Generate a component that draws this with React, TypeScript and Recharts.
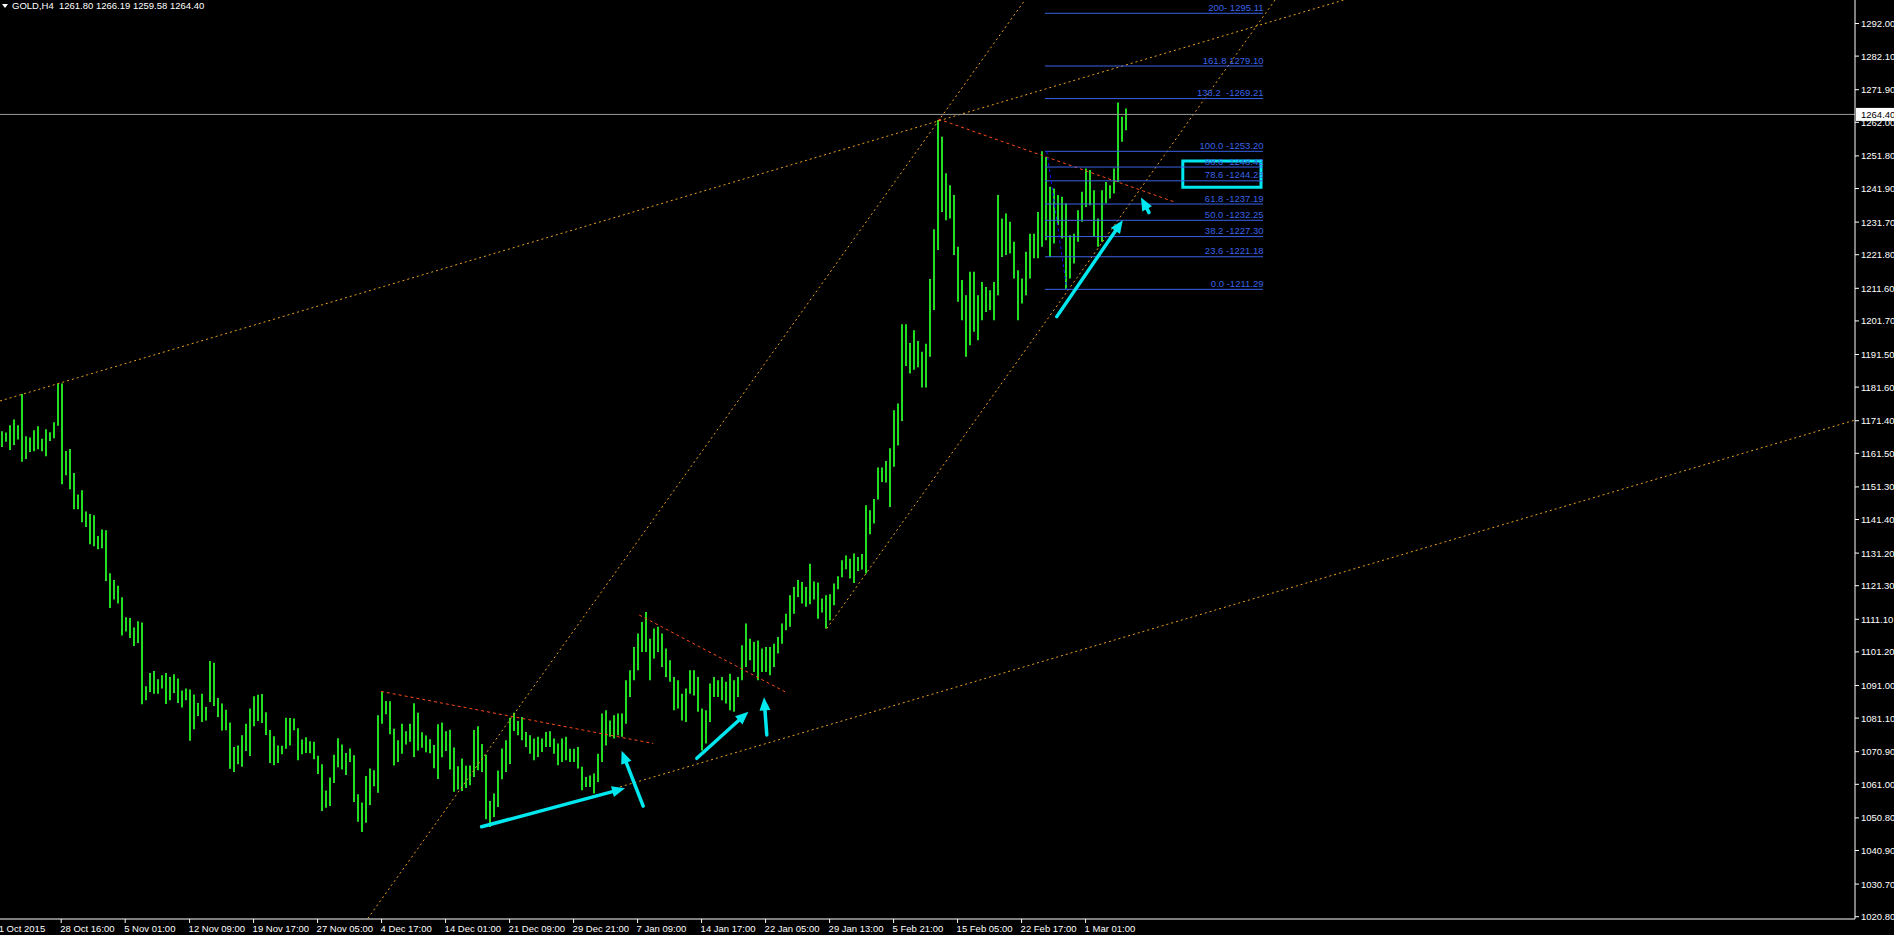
import React from 'react';
import {
  Bar,
  ComposedChart,
  ReferenceArea,
  ReferenceLine,
  XAxis,
  YAxis,
} from 'recharts';

const W = 1894;
const H = 935;

// one slot = two H4 bars, [low, high] per slot
const highs = [
  1168.2, 1167.8, 1170.0, 1171.8, 1170.0, 1179.5, 1166.7, 1166.3, 1168.5, 1169.7,
  1165.9, 1168.8, 1167.9, 1170.9, 1182.7, 1182.7, 1162.2, 1162.8, 1155.5, 1149.0,
  1150.3, 1143.8, 1143.1, 1142.7, 1136.4, 1138.4, 1138.1, 1125.1, 1123.0, 1121.3,
  1117.8, 1111.7, 1111.5, 1108.6, 1110.5, 1110.1, 1090.8, 1094.8, 1095.4, 1092.9,
  1094.1, 1094.8, 1093.6, 1094.4, 1093.1, 1089.5, 1090.1, 1089.8, 1088.3, 1085.7,
  1088.5, 1084.5, 1098.4, 1097.9, 1087.2, 1085.5, 1083.6, 1079.8, 1072.3, 1072.8,
  1075.9, 1079.4, 1084.0, 1087.7, 1088.2, 1088.4, 1082.9, 1077.5, 1075.6, 1072.8,
  1072.7, 1081.2, 1081.1, 1081.0, 1078.0, 1074.6, 1075.3, 1074.1, 1073.9, 1069.7,
  1067.1, 1059.1, 1063.1, 1070.0, 1075.0, 1073.1, 1070.5, 1071.9, 1069.8, 1058.0,
  1055.5, 1063.5, 1065.8, 1065.3, 1082.0, 1089.1, 1086.3, 1086.2, 1077.9, 1074.4,
  1079.4, 1077.1, 1079.4, 1085.6, 1082.7, 1076.8, 1075.8, 1074.7, 1072.9, 1079.2,
  1079.8, 1077.1, 1077.6, 1072.2, 1066.5, 1068.8, 1066.6, 1066.7, 1077.5, 1078.6,
  1073.2, 1070.0, 1055.9, 1058.2, 1065.2, 1071.9, 1074.4, 1081.2, 1082.7, 1080.2,
  1081.4, 1076.9, 1075.9, 1074.9, 1075.4, 1074.9, 1076.9, 1077.1, 1074.9, 1073.4,
  1074.9, 1075.4, 1071.8, 1071.8, 1072.3, 1066.3, 1063.2, 1063.7, 1064.3, 1070.3,
  1082.5, 1083.5, 1080.4, 1082.0, 1082.5, 1082.5, 1092.6, 1095.6, 1102.7, 1106.8,
  1110.3, 1113.3, 1105.2, 1108.3, 1108.8, 1106.8, 1102.2, 1098.7, 1093.6, 1092.6,
  1088.5, 1090.1, 1095.6, 1095.6, 1093.6, 1084.0, 1083.5, 1091.6, 1093.6, 1092.6,
  1093.6, 1092.1, 1094.6, 1092.6, 1093.6, 1103.2, 1109.8, 1105.2, 1104.2, 1104.7,
  1102.2, 1102.7, 1102.7, 1103.7, 1105.7, 1109.8, 1112.8, 1118.4, 1120.9, 1123.0,
  1122.4, 1120.9, 1128.0, 1122.6, 1122.3, 1117.4, 1118.4, 1118.7, 1122.0, 1124.2,
  1129.0, 1130.5, 1129.5, 1131.1, 1130.0, 1130.9, 1145.7, 1144.2, 1147.6, 1157.2,
  1157.2, 1159.2, 1163.0, 1174.6, 1176.6, 1200.7, 1200.7, 1195.0, 1198.9, 1195.6,
  1192.3, 1194.8, 1214.4, 1229.5, 1262.7, 1257.6, 1246.5, 1242.9, 1239.9, 1224.2,
  1214.1, 1209.5, 1216.6, 1216.6, 1209.5, 1213.5, 1212.0, 1211.0, 1213.5, 1239.9,
  1232.8, 1234.3, 1231.8, 1225.7, 1217.1, 1214.6, 1222.7, 1228.2, 1228.2, 1234.8,
  1253.2, 1251.5, 1242.4, 1241.9, 1239.9, 1239.4, 1237.4, 1227.7, 1228.2, 1235.3,
  1240.9, 1248.0, 1247.5, 1241.4, 1232.8, 1241.4, 1243.9, 1242.9, 1248.0, 1268.0,
  1263.7, 1266.2,
];

const lows = [
  1163.4, 1165.0, 1162.5, 1164.0, 1165.7, 1158.9, 1159.8, 1161.9, 1162.1, 1162.7,
  1162.1, 1160.6, 1165.2, 1166.1, 1169.9, 1152.1, 1154.8, 1150.6, 1144.5, 1144.5,
  1140.6, 1139.1, 1133.9, 1133.3, 1132.4, 1132.7, 1122.7, 1114.5, 1117.1, 1115.9,
  1106.2, 1107.4, 1105.4, 1103.0, 1103.9, 1085.3, 1086.5, 1089.0, 1088.5, 1088.5,
  1090.1, 1085.4, 1086.5, 1088.7, 1085.7, 1084.3, 1086.5, 1074.2, 1077.7, 1081.7,
  1079.9, 1080.4, 1086.0, 1084.8, 1081.4, 1077.3, 1077.4, 1065.7, 1064.7, 1067.1,
  1066.3, 1071.1, 1069.6, 1078.6, 1080.2, 1079.6, 1076.0, 1067.5, 1066.8, 1067.5,
  1070.1, 1071.8, 1072.8, 1077.4, 1068.3, 1070.1, 1070.5, 1070.4, 1068.6, 1064.1,
  1052.9, 1053.9, 1054.4, 1061.4, 1066.2, 1065.5, 1063.8, 1067.8, 1055.6, 1049.6,
  1046.5, 1049.3, 1054.7, 1060.4, 1058.4, 1079.4, 1082.3, 1076.2, 1066.7, 1067.8,
  1070.3, 1073.1, 1073.9, 1069.3, 1071.3, 1072.1, 1070.7, 1070.4, 1065.9, 1062.6,
  1069.2, 1071.1, 1065.5, 1058.7, 1059.4, 1059.0, 1059.9, 1060.7, 1063.2, 1065.3,
  1064.7, 1050.4, 1048.0, 1051.1, 1054.1, 1062.5, 1064.7, 1067.2, 1077.2, 1075.9,
  1074.4, 1072.3, 1070.3, 1068.3, 1069.3, 1070.8, 1072.3, 1072.3, 1070.3, 1066.8,
  1067.8, 1068.3, 1067.8, 1067.8, 1065.8, 1059.2, 1060.2, 1060.2, 1058.2, 1061.7,
  1067.8, 1072.8, 1075.4, 1074.9, 1075.9, 1075.4, 1079.4, 1087.5, 1092.6, 1095.6,
  1101.2, 1101.2, 1092.6, 1099.2, 1101.2, 1096.6, 1093.6, 1092.1, 1083.5, 1084.0,
  1080.4, 1079.9, 1088.5, 1088.0, 1083.0, 1071.3, 1073.4, 1079.9, 1087.5, 1087.5,
  1086.5, 1085.5, 1083.5, 1083.0, 1087.5, 1092.6, 1096.6, 1098.7, 1095.1, 1092.6,
  1095.1, 1095.1, 1094.1, 1096.6, 1100.7, 1103.7, 1107.8, 1108.8, 1112.8, 1117.9,
  1115.9, 1114.9, 1115.7, 1117.1, 1111.3, 1113.2, 1108.3, 1110.8, 1115.4, 1120.2,
  1123.9, 1126.3, 1123.5, 1122.1, 1125.8, 1126.2, 1125.0, 1136.9, 1140.2, 1147.5,
  1152.8, 1152.6, 1145.2, 1157.4, 1163.9, 1171.3, 1188.0, 1185.7, 1186.9, 1187.6,
  1181.5, 1181.5, 1190.8, 1205.0, 1223.2, 1234.8, 1232.3, 1232.8, 1221.7, 1207.5,
  1201.9, 1190.8, 1194.3, 1198.4, 1195.8, 1201.9, 1204.4, 1205.0, 1201.9, 1209.5,
  1221.1, 1221.7, 1222.2, 1214.6, 1201.9, 1207.0, 1209.5, 1214.6, 1220.7, 1220.7,
  1224.2, 1226.2, 1221.1, 1225.2, 1230.8, 1226.7, 1211.3, 1214.6, 1219.1, 1225.7,
  1231.8, 1236.3, 1236.8, 1227.2, 1224.2, 1225.7, 1237.4, 1238.9, 1240.4, 1243.9,
  1256.1, 1259.6,
];

const yTicks = [
  1292.0, 1282.1, 1271.9, 1262.0, 1251.8, 1241.9, 1231.7, 1221.8, 1211.6, 1201.7,
  1191.5, 1181.6, 1171.4, 1161.5, 1151.3, 1141.4, 1131.2, 1121.3, 1111.1, 1101.2,
  1091.0, 1081.1, 1070.9, 1061.0, 1050.8, 1040.9, 1030.7, 1020.8,
];

const xTickPos = [
  -1.2, 14.8, 30.8, 46.9, 62.9, 78.9, 94.9, 110.9, 126.9, 142.9, 158.9, 174.9,
  190.9, 206.9, 222.9, 238.9, 254.9, 270.9,
];
const xTickLabels = [
  '21 Oct 2015', '28 Oct 16:00', '5 Nov 01:00', '12 Nov 09:00', '19 Nov 17:00',
  '27 Nov 05:00', '4 Dec 17:00', '14 Dec 01:00', '21 Dec 09:00', '29 Dec 21:00',
  '7 Jan 09:00', '14 Jan 17:00', '22 Jan 05:00', '29 Jan 13:00', '5 Feb 21:00',
  '15 Feb 05:00', '22 Feb 17:00', '1 Mar 01:00',
];

const lastPrice = 1264.4;
const headerText = 'GOLD,H4  1261.80 1266.19 1259.58 1264.40';

const fibLevels = [
  1295.11, 1279.1, 1269.21, 1253.2, 1248.42, 1244.23, 1237.19, 1232.25, 1227.3,
  1221.18, 1211.29,
];
const fibLabels = [
  '200- 1295.11', '161.8 1279.10', '138.2  -1269.21', '100.0 -1253.20',
  '88.6 -1248.42', '78.6 -1244.23', '61.8 -1237.19', '50.0 -1232.25',
  '38.2 -1227.30', '23.6 -1221.18', '0.0 -1211.29',
];
const fibSpan = [260.75, 315.25];
const fibAnchor = [[261.2, 1253.2], [266.2, 1211.29]];

// drawn objects, as [slot, price] pairs
const orangeLines = [
  [[-0.5, 1177.4], [340, 1300.8]],
  [[90, 1017.8], [257, 1301.3]],
  [[206.2, 1108.3], [320, 1302.1]],
  [[154.5, 1060.2], [463.25, 1171.6]],
];
const redLines = [
  [[94.75, 1089.2], [162.8, 1073.4]],
  [[159.3, 1112.4], [195.75, 1089.1]],
  [[234.1, 1263.0], [293.4, 1237.7]],
];
const arrows = [
  [[119.9, 1048.1], [155.75, 1059.8]],
  [[160.3, 1054.4], [154.9, 1071.2]],
  [[173.7, 1068.9], [186.6, 1083.05]],
  [[191.2, 1076.0], [190.5, 1087.4]],
  [[263.7, 1203.0], [280.2, 1232.3]],
  [[286.75, 1234.6], [284.75, 1239.2]],
];
const boxArea = { x: [295.2, 314.75], y: [1242.27, 1250.26] };

const rows = highs.map((h, i) => ({ slot: i, range: [lows[i], h] }));

const X_MIN = -0.5;
const SLOT_PX = 4;

const GREEN = '#22dd22';
const ORANGE = '#eba21f';
const RED = '#ff4a1a';
const FIB = '#3a62e6';
const CYAN = '#00e8ef';
const FONT = "'Liberation Sans', Arial, sans-serif";

const YTick = ({ x, y, payload }: any) => (
  <text x={x} y={y} dy={3.5} fill="#fff" fontSize={9.5} fontFamily={FONT} textAnchor="start">
    {Number(payload.value).toFixed(2)}
  </text>
);

const XTick = ({ x, y, payload }: any) => {
  const idx = xTickPos.indexOf(payload.value);
  // the first label sits left of the plot; the scale clamps it, so shift it back
  const shift = payload.value < X_MIN ? (payload.value - X_MIN) * SLOT_PX : 0;
  return (
    <text x={x - 1 + shift} y={y} dy={7} fill="#fff" fontSize={9.5} fontFamily={FONT} textAnchor="start">
      {idx >= 0 ? xTickLabels[idx] : ''}
    </text>
  );
};

const ArrowShape = (props: any) => {
  const { x1, y1, x2, y2 } = props;
  const dx = x2 - x1;
  const dy = y2 - y1;
  const len = Math.hypot(dx, dy) || 1;
  const ux = dx / len;
  const uy = dy / len;
  const head = 13;
  const half = 5.5;
  const bx = x2 - ux * head;
  const by = y2 - uy * head;
  const pts = `${x2},${y2} ${bx - uy * half},${by + ux * half} ${bx + uy * half},${by - ux * half}`;
  return (
    <g>
      <line x1={x1} y1={y1} x2={bx + ux * 2} y2={by + uy * 2} stroke={CYAN} strokeWidth={3.5} strokeLinecap="round" />
      <polygon points={pts} fill={CYAN} />
    </g>
  );
};

const fibShape = (label: string) => (props: any) => (
  <g>
    <line x1={props.x1} y1={props.y1} x2={props.x2} y2={props.y2} stroke={FIB} strokeWidth={1} />
    <text
      x={Math.max(props.x1, props.x2) + 0.5}
      y={props.y1 - 2.5}
      textAnchor="end"
      fill={FIB}
      fontSize={9.5}
      fontFamily={FONT}
      style={{ whiteSpace: 'pre' }}
    >
      {label}
    </text>
  </g>
);

const PriceLineShape = (props: any) => {
  const right = Math.max(props.x1, props.x2);
  return (
    <g>
      <line x1={props.x1} y1={props.y1} x2={props.x2} y2={props.y2} stroke="#9b9b9b" strokeWidth={1} />
      <rect x={right + 1} y={props.y1 - 6.5} width={39} height={13} fill="#fff" />
      <text x={right + 6} y={props.y1 + 3.5} fill="#000" fontSize={9.5} fontFamily={FONT}>
        {lastPrice.toFixed(2)}
      </text>
    </g>
  );
};

export default function App() {
  return (
    <div
      style={{
        position: 'absolute',
        left: 0,
        top: 0,
        width: W,
        height: H,
        background: '#000',
        overflow: 'hidden',
      }}
    >
      <ComposedChart width={W} height={H} data={rows} margin={{ top: 0, right: 0, bottom: 0, left: 0 }}>
        <XAxis
          dataKey="slot"
          type="number"
          domain={[X_MIN, 463.25]}
          allowDataOverflow
          ticks={xTickPos}
          interval={0}
          height={16}
          tickSize={4}
          tick={<XTick />}
          axisLine={{ stroke: '#fff' }}
          tickLine={{ stroke: '#fff' }}
        />
        <YAxis
          orientation="right"
          type="number"
          domain={[1020.1, 1299.14]}
          allowDataOverflow
          ticks={yTicks}
          interval={0}
          width={39}
          tickSize={4}
          tick={<YTick />}
          axisLine={{ stroke: '#fff' }}
          tickLine={{ stroke: '#fff' }}
        />
        <Bar dataKey="range" fill={GREEN} barSize={2} isAnimationActive={false} />
        {orangeLines.map((seg, i) => (
          <ReferenceLine
            key={`o${i}`}
            segment={seg.map(([x, y]) => ({ x, y }))}
            stroke={ORANGE}
            strokeDasharray="2 3"
            ifOverflow="hidden"
          />
        ))}
        {redLines.map((seg, i) => (
          <ReferenceLine
            key={`r${i}`}
            segment={seg.map(([x, y]) => ({ x, y }))}
            stroke={RED}
            strokeDasharray="3 3"
            ifOverflow="hidden"
          />
        ))}
        {fibLevels.map((lvl, i) => (
          <ReferenceLine
            key={`f${i}`}
            segment={[{ x: fibSpan[0], y: lvl }, { x: fibSpan[1], y: lvl }]}
            ifOverflow="visible"
            shape={fibShape(fibLabels[i])}
          />
        ))}
        <ReferenceLine
          segment={fibAnchor.map(([x, y]) => ({ x, y }))}
          stroke="#1010ff"
          strokeDasharray="3 3"
          ifOverflow="visible"
        />
        <ReferenceLine y={lastPrice} ifOverflow="visible" shape={PriceLineShape} />
        <ReferenceArea
          x1={boxArea.x[0]}
          x2={boxArea.x[1]}
          y1={boxArea.y[0]}
          y2={boxArea.y[1]}
          fill="none"
          fillOpacity={0}
          stroke={CYAN}
          strokeWidth={3}
          ifOverflow="visible"
        />
        {arrows.map((seg, i) => (
          <ReferenceLine
            key={`a${i}`}
            segment={seg.map(([x, y]) => ({ x, y }))}
            ifOverflow="visible"
            shape={ArrowShape}
          />
        ))}
      </ComposedChart>
      <div
        style={{
          position: 'absolute',
          left: 2,
          top: 4,
          width: 0,
          height: 0,
          borderLeft: '3.5px solid transparent',
          borderRight: '3.5px solid transparent',
          borderTop: '4px solid #fff',
        }}
      />
      <div
        style={{
          position: 'absolute',
          left: 12,
          top: -0.5,
          color: '#fff',
          fontFamily: FONT,
          fontSize: 9.5,
          lineHeight: '11px',
          whiteSpace: 'pre',
        }}
      >
        {headerText}
      </div>
    </div>
  );
}
